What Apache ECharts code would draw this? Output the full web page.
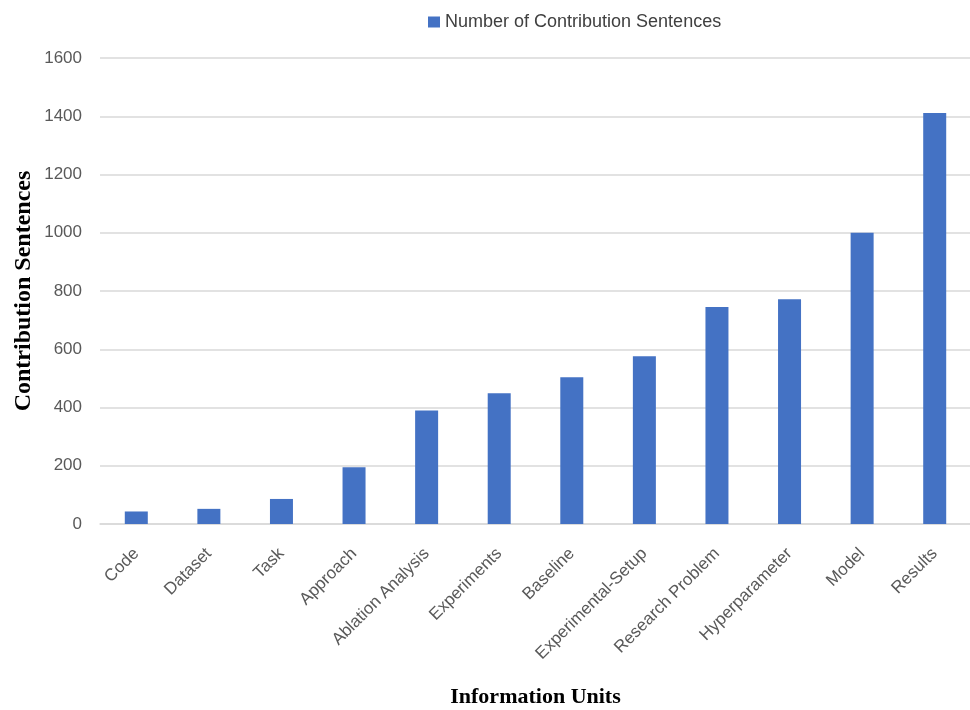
<!DOCTYPE html>
<html>
<head>
<meta charset="utf-8">
<script src="https://cdn.jsdelivr.net/npm/echarts@6/dist/echarts.min.js"></script>
<style>
  html, body { margin: 0; padding: 0; background: #ffffff; }
  #chart { width: 970px; height: 710px; }
</style>
</head>
<body>
<div id="chart"></div>
<script>
// Information units and the number of contribution sentences in each
const categories = [
  'Code', 'Dataset', 'Task', 'Approach', 'Ablation Analysis', 'Experiments',
  'Baseline', 'Experimental-Setup', 'Research Problem', 'Hyperparameter', 'Model', 'Results'
];
const sentenceCounts = [43, 52, 86, 195, 390, 449, 504, 576, 745, 772, 1000, 1411];
const seriesName = 'Number of Contribution Sentences';
const yTicks = { min: 0, max: 1600, interval: 200 };

const labelFont = '"Liberation Sans", "Open Sans", sans-serif';
const titleFont = '"Liberation Serif", "DejaVu Serif", serif';

const chart = echarts.init(document.getElementById('chart'), null, { renderer: 'canvas' });
chart.setOption({
  animation: false,
  backgroundColor: '#ffffff',
  legend: {
    data: [seriesName],
    top: 8,
    left: 423,
    itemWidth: 12,
    itemHeight: 11,
    itemGap: 5,
    icon: 'rect',
    textStyle: { fontFamily: labelFont, fontSize: 18, color: '#404040' }
  },
  // fixed plot rectangle; labels and names are placed by hand around it
  grid: { left: 100, width: 871, top: 58, bottom: 186, containLabel: false, outerBoundsMode: 'none' },
  xAxis: {
    type: 'category',
    data: categories,
    name: 'Information Units',
    nameLocation: 'middle',
    nameGap: 162,
    nameMoveOverlap: false,
    nameTextStyle: { fontFamily: titleFont, fontWeight: 'bold', fontSize: 22, color: '#000000' },
    axisLine: { show: true, lineStyle: { color: '#d9d9d9', width: 1.5 } },
    axisTick: { show: false },
    axisLabel: {
      rotate: 45,
      interval: 0,
      margin: 27,
      fontFamily: labelFont,
      fontSize: 17,
      color: '#595959'
    }
  },
  yAxis: {
    type: 'value',
    min: yTicks.min,
    max: yTicks.max,
    interval: yTicks.interval,
    name: 'Contribution Sentences',
    nameLocation: 'middle',
    nameGap: 64,
    nameRotate: 90,
    nameMoveOverlap: false,
    nameTextStyle: { fontFamily: titleFont, fontWeight: 'bold', fontSize: 24, color: '#000000' },
    axisLine: { show: false },
    axisTick: { show: false },
    axisLabel: {
      margin: 18,
      fontFamily: labelFont,
      fontSize: 17,
      color: '#595959',
      formatter: (v) => String(v)
    },
    splitLine: { lineStyle: { color: '#d9d9d9', width: 1.5 } }
  },
  series: [{
    name: seriesName,
    type: 'bar',
    data: sentenceCounts,
    barWidth: 23,
    itemStyle: { color: '#4472c4' }
  }]
});
</script>
</body>
</html>
